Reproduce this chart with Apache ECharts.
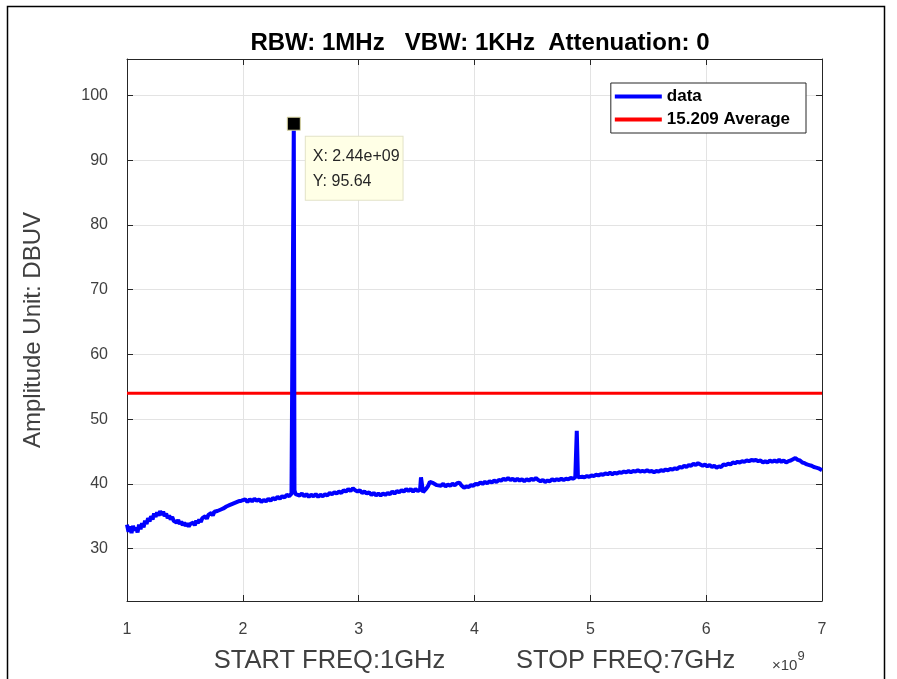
<!DOCTYPE html>
<html><head><meta charset="utf-8">
<script src="https://cdn.jsdelivr.net/npm/echarts@6/dist/echarts.min.js"></script>
<style>html,body{margin:0;padding:0;background:#fff;overflow:hidden}#c{width:897px;height:679px}</style>
</head><body><div id="c"></div>
<script>
// Frequency in GHz (axis shown as x 10^9 Hz)
const freqGHz = [
1.000,1.013,1.026,1.039,1.052,1.065,1.078,1.091,1.104,1.117,
1.130,1.143,1.156,1.169,1.182,1.195,1.208,1.221,1.234,1.247,
1.260,1.273,1.286,1.299,1.312,1.325,1.338,1.351,1.364,1.377,
1.390,1.403,1.416,1.429,1.442,1.455,1.468,1.481,1.494,1.507,
1.520,1.533,1.546,1.559,1.572,1.585,1.598,1.611,1.624,1.637,
1.650,1.663,1.676,1.689,1.702,1.715,1.728,1.741,1.754,1.767,
1.780,1.793,1.806,1.819,1.832,1.845,1.858,1.871,1.884,1.897,
1.910,1.923,1.936,1.949,1.962,1.975,1.988,2.001,2.020,2.040,
2.060,2.080,2.100,2.120,2.140,2.160,2.180,2.200,2.220,2.240,
2.260,2.280,2.300,2.320,2.340,2.360,2.380,2.400,2.420,2.434,
2.440,2.446,2.455,2.470,2.490,2.510,2.530,2.550,2.570,2.590,
2.610,2.630,2.650,2.670,2.690,2.710,2.730,2.750,2.770,2.790,
2.810,2.830,2.850,2.870,2.890,2.910,2.930,2.950,2.970,2.990,
3.010,3.030,3.050,3.070,3.090,3.110,3.130,3.150,3.170,3.190,
3.210,3.230,3.250,3.270,3.290,3.310,3.330,3.350,3.370,3.390,
3.410,3.430,3.450,3.470,3.490,3.510,3.530,3.538,3.548,3.556,
3.570,3.585,3.600,3.615,3.630,3.645,3.660,3.675,3.690,3.710,
3.730,3.750,3.770,3.790,3.810,3.830,3.850,3.870,3.890,3.910,
3.930,3.950,3.970,3.990,4.010,4.030,4.050,4.070,4.090,4.110,
4.130,4.150,4.170,4.190,4.210,4.230,4.250,4.270,4.290,4.310,
4.330,4.350,4.370,4.390,4.410,4.430,4.450,4.470,4.490,4.510,
4.530,4.550,4.570,4.590,4.610,4.630,4.650,4.670,4.690,4.710,
4.730,4.750,4.770,4.790,4.810,4.830,4.850,4.870,4.879,4.883,
4.888,4.893,4.910,4.930,4.950,4.970,4.990,5.010,5.030,5.050,
5.070,5.090,5.110,5.130,5.150,5.170,5.190,5.210,5.230,5.250,
5.270,5.290,5.310,5.330,5.350,5.370,5.390,5.410,5.430,5.450,
5.470,5.490,5.510,5.530,5.550,5.570,5.590,5.610,5.630,5.650,
5.670,5.690,5.710,5.730,5.750,5.770,5.790,5.810,5.830,5.850,
5.870,5.890,5.910,5.930,5.950,5.970,5.990,6.010,6.030,6.050,
6.070,6.090,6.110,6.130,6.150,6.170,6.190,6.210,6.230,6.250,
6.270,6.290,6.310,6.330,6.350,6.370,6.390,6.410,6.430,6.450,
6.470,6.490,6.510,6.530,6.550,6.570,6.590,6.610,6.630,6.650,
6.670,6.690,6.710,6.730,6.750,6.770,6.790,6.810,6.830,6.850,
6.870,6.890,6.910,6.930,6.950,6.970,6.985,7.000
];
// Amplitude in dBuV
const amplitude = [
33.7,32.6,33.4,32.4,33.5,32.8,33.2,32.5,33.7,33.0,
33.9,33.3,34.3,33.8,34.7,34.2,35.0,34.5,35.4,34.9,
35.6,35.1,35.8,35.2,35.7,35.0,35.4,34.7,35.1,34.5,
34.9,34.3,34.6,34.0,34.4,33.8,34.2,33.6,34.0,33.5,
33.9,33.4,33.8,33.5,34.0,33.6,34.3,33.9,34.5,34.1,
34.7,34.4,35.0,34.6,35.2,34.9,35.5,35.1,35.7,35.4,
35.8,35.5,36.0,35.7,36.2,35.9,36.5,36.2,36.7,36.4,
36.9,36.6,37.1,36.8,37.3,37.0,37.4,37.2,37.6,37.2,
37.6,37.3,37.7,37.4,37.6,37.2,37.5,37.3,37.7,37.4,
37.8,37.6,38.0,37.7,38.1,37.9,38.3,38.1,38.5,38.3,
95.64,39.0,38.4,38.6,38.2,38.5,38.1,38.4,38.0,38.3,
38.1,38.4,38.0,38.3,38.1,38.4,38.2,38.6,38.4,38.7,
38.5,38.8,38.6,39.0,38.8,39.2,38.9,39.3,39.0,38.8,
39.0,38.6,38.8,38.5,38.7,38.3,38.6,38.2,38.5,38.2,
38.5,38.3,38.6,38.4,38.8,38.5,38.9,38.7,39.0,38.8,
39.2,38.9,39.2,38.8,39.2,38.9,39.1,41.0,41.0,38.7,
38.9,39.3,39.7,40.3,40.5,40.1,40.4,39.8,40.1,39.7,
40.0,39.6,39.9,39.7,40.0,39.8,40.1,40.2,39.7,39.4,
39.6,39.5,39.8,39.7,40.0,39.9,40.2,40.0,40.3,40.1,
40.4,40.2,40.5,40.3,40.6,40.5,40.8,40.6,40.9,40.6,
40.8,40.5,40.8,40.5,40.7,40.4,40.7,40.5,40.8,40.6,
40.9,40.6,40.4,40.6,40.3,40.5,40.4,40.7,40.5,40.7,
40.6,40.8,40.6,40.8,40.7,40.9,40.8,41.0,40.8,48.2,
48.2,41.0,40.9,41.1,41.0,41.2,41.1,41.3,41.2,41.4,
41.3,41.5,41.4,41.6,41.5,41.7,41.5,41.7,41.6,41.8,
41.7,41.9,41.8,42.0,41.8,42.0,41.9,42.1,41.9,42.0,
41.9,42.1,41.9,42.0,41.8,42.0,41.9,42.1,42.0,42.2,
42.1,42.3,42.2,42.4,42.3,42.6,42.5,42.8,42.6,42.9,
42.8,43.1,42.9,43.2,43.0,42.8,43.0,42.7,42.9,42.6,
42.8,42.5,42.7,42.6,43.0,42.9,43.1,43.0,43.3,43.2,
43.4,43.3,43.5,43.4,43.6,43.5,43.7,43.6,43.7,43.5,
43.6,43.3,43.5,43.3,43.6,43.4,43.6,43.4,43.7,43.4,
43.6,43.3,43.5,43.6,43.8,44.0,43.7,43.6,43.3,43.2,
43.0,42.9,42.8,42.6,42.5,42.4,42.3,42.1
];
const avgLimit = 54;            // 15.209 Average limit (dBuV)
const peakFreqGHz = 2.44;
const peakAmp = 95.64;
const xTicks = [1, 2, 3, 4, 5, 6, 7];
const yTicks = [30, 40, 50, 60, 70, 80, 90, 100];
const yMin = 21.9, yMax = 105.64;
const titleText = 'RBW: 1MHz   VBW: 1KHz  Attenuation: 0';
const xName = 'START FREQ:1GHz          STOP FREQ:7GHz';
const yName = 'Amplitude Unit: DBUV';
const seriesNames = ['data', '15.209 Average'];

const FONT = '"Liberation Sans", Arial, sans-serif';
const AX = '#262626';
const TXT = '#404040';
const GRID = '#e3e3e3';

const chart = echarts.init(document.getElementById('c'), null, {renderer: 'canvas', width: 897, height: 679});
const dataPairs = freqGHz.map((f, i) => [f, amplitude[i]]);
const peakLabel = 'X: ' + (peakFreqGHz * 1e9).toExponential(2).replace(/e\+(\d)$/, 'e+0$1') +
                  '\nY: ' + peakAmp.toFixed(2);

function frameAxis(pos, isX) {
  const a = {
    type: 'value', position: pos, min: isX ? xTicks[0] : yMin, max: isX ? xTicks[xTicks.length - 1] : yMax,
    axisLine: {show: true, onZero: false, lineStyle: {color: AX, width: 1}},
    axisTick: {show: true, inside: true, length: 6, lineStyle: {color: AX}},
    axisLabel: {show: false},
    splitLine: {show: false}
  };
  if (isX) { a.interval = 1; } else { a.axisTick.customValues = yTicks; }
  return a;
}

chart.setOption({
  animation: false,
  backgroundColor: '#fff',
  title: {
    text: titleText, left: 475, textAlign: 'center', top: 26,
    textStyle: {fontFamily: FONT, fontSize: 24, fontWeight: 'bold', color: '#000'}
  },
  grid: {left: 127, width: 695, top: 59, height: 553, containLabel: false},
  legend: {
    orient: 'vertical', right: 91, top: 83,
    data: seriesNames,
    backgroundColor: '#fff', borderColor: AX, borderWidth: 1,
    padding: [5, 16, 5, 4], itemGap: 6, itemWidth: 47, itemHeight: 4, icon: 'rect',
    textStyle: {fontFamily: FONT, fontSize: 17, fontWeight: 'bold', color: '#000'}
  },
  xAxis: [{
    type: 'value', min: xTicks[0], max: xTicks[xTicks.length - 1], interval: 1,
    name: xName, nameLocation: 'middle', nameGap: 47,
    nameTextStyle: {fontFamily: FONT, fontSize: 25.5, color: TXT},
    axisLine: {show: true, onZero: false, lineStyle: {color: AX, width: 1}},
    axisTick: {show: true, inside: true, length: 6, lineStyle: {color: AX}},
    axisLabel: {fontFamily: FONT, fontSize: 16, color: TXT, margin: 21},
    splitLine: {show: true, lineStyle: {color: GRID, width: 1}}
  }, frameAxis('top', true)],
  yAxis: [{
    type: 'value', min: yMin, max: yMax,
    name: yName, nameLocation: 'middle', nameGap: 82, nameRotate: 90,
    nameTextStyle: {fontFamily: FONT, fontSize: 24, color: TXT},
    axisLine: {show: true, onZero: false, lineStyle: {color: AX, width: 1}},
    axisTick: {show: true, inside: true, length: 6, customValues: yTicks, lineStyle: {color: AX}},
    axisLabel: {customValues: yTicks, fontFamily: FONT, fontSize: 16, color: TXT, margin: 19},
    splitLine: {show: true, lineStyle: {color: GRID, width: 1}}
  }, frameAxis('right', false)],
  series: [{
    name: seriesNames[0], type: 'line', showSymbol: false, symbol: 'none',
    data: dataPairs, color: '#0000ff',
    lineStyle: {color: '#0000ff', width: 4},
    z: 3,
    markPoint: {
      symbol: 'rect', symbolSize: 13,
      itemStyle: {color: '#000', borderColor: '#d8d4a0', borderWidth: 1},
      data: [{coord: [peakFreqGHz, peakAmp]}],
      label: {
        show: true, formatter: peakLabel, position: [19, 20],
        align: 'left', verticalAlign: 'top',
        backgroundColor: '#ffffe6', borderColor: '#e2e2c8', borderWidth: 1,
        padding: [7, 3, 6, 7], lineHeight: 25,
        fontFamily: FONT, fontSize: 16, color: '#262626'
      }
    }
  }, {
    name: seriesNames[1], type: 'line', showSymbol: false, symbol: 'none',
    data: [[xTicks[0], avgLimit], [xTicks[xTicks.length - 1], avgLimit]],
    color: '#ff0000', lineStyle: {color: '#ff0000', width: 3}, z: 2
  }],
  graphic: [{
    type: 'rect', shape: {x: 7.5, y: 6.5, width: 877, height: 690},
    style: {fill: 'none', stroke: '#000', lineWidth: 1.5}, silent: true
  }, {
    type: 'text', left: 772, top: 650,
    style: {
      text: '{a|\u00d710}{b|9}', fill: TXT,
      rich: {
        a: {fontFamily: FONT, fontSize: 15, color: TXT, padding: [8, 0, 0, 0]},
        b: {fontFamily: FONT, fontSize: 13, color: TXT, verticalAlign: 'top', padding: [0, 0, 8, 0]}
      }
    }
  }]
});
</script>
</body></html>
